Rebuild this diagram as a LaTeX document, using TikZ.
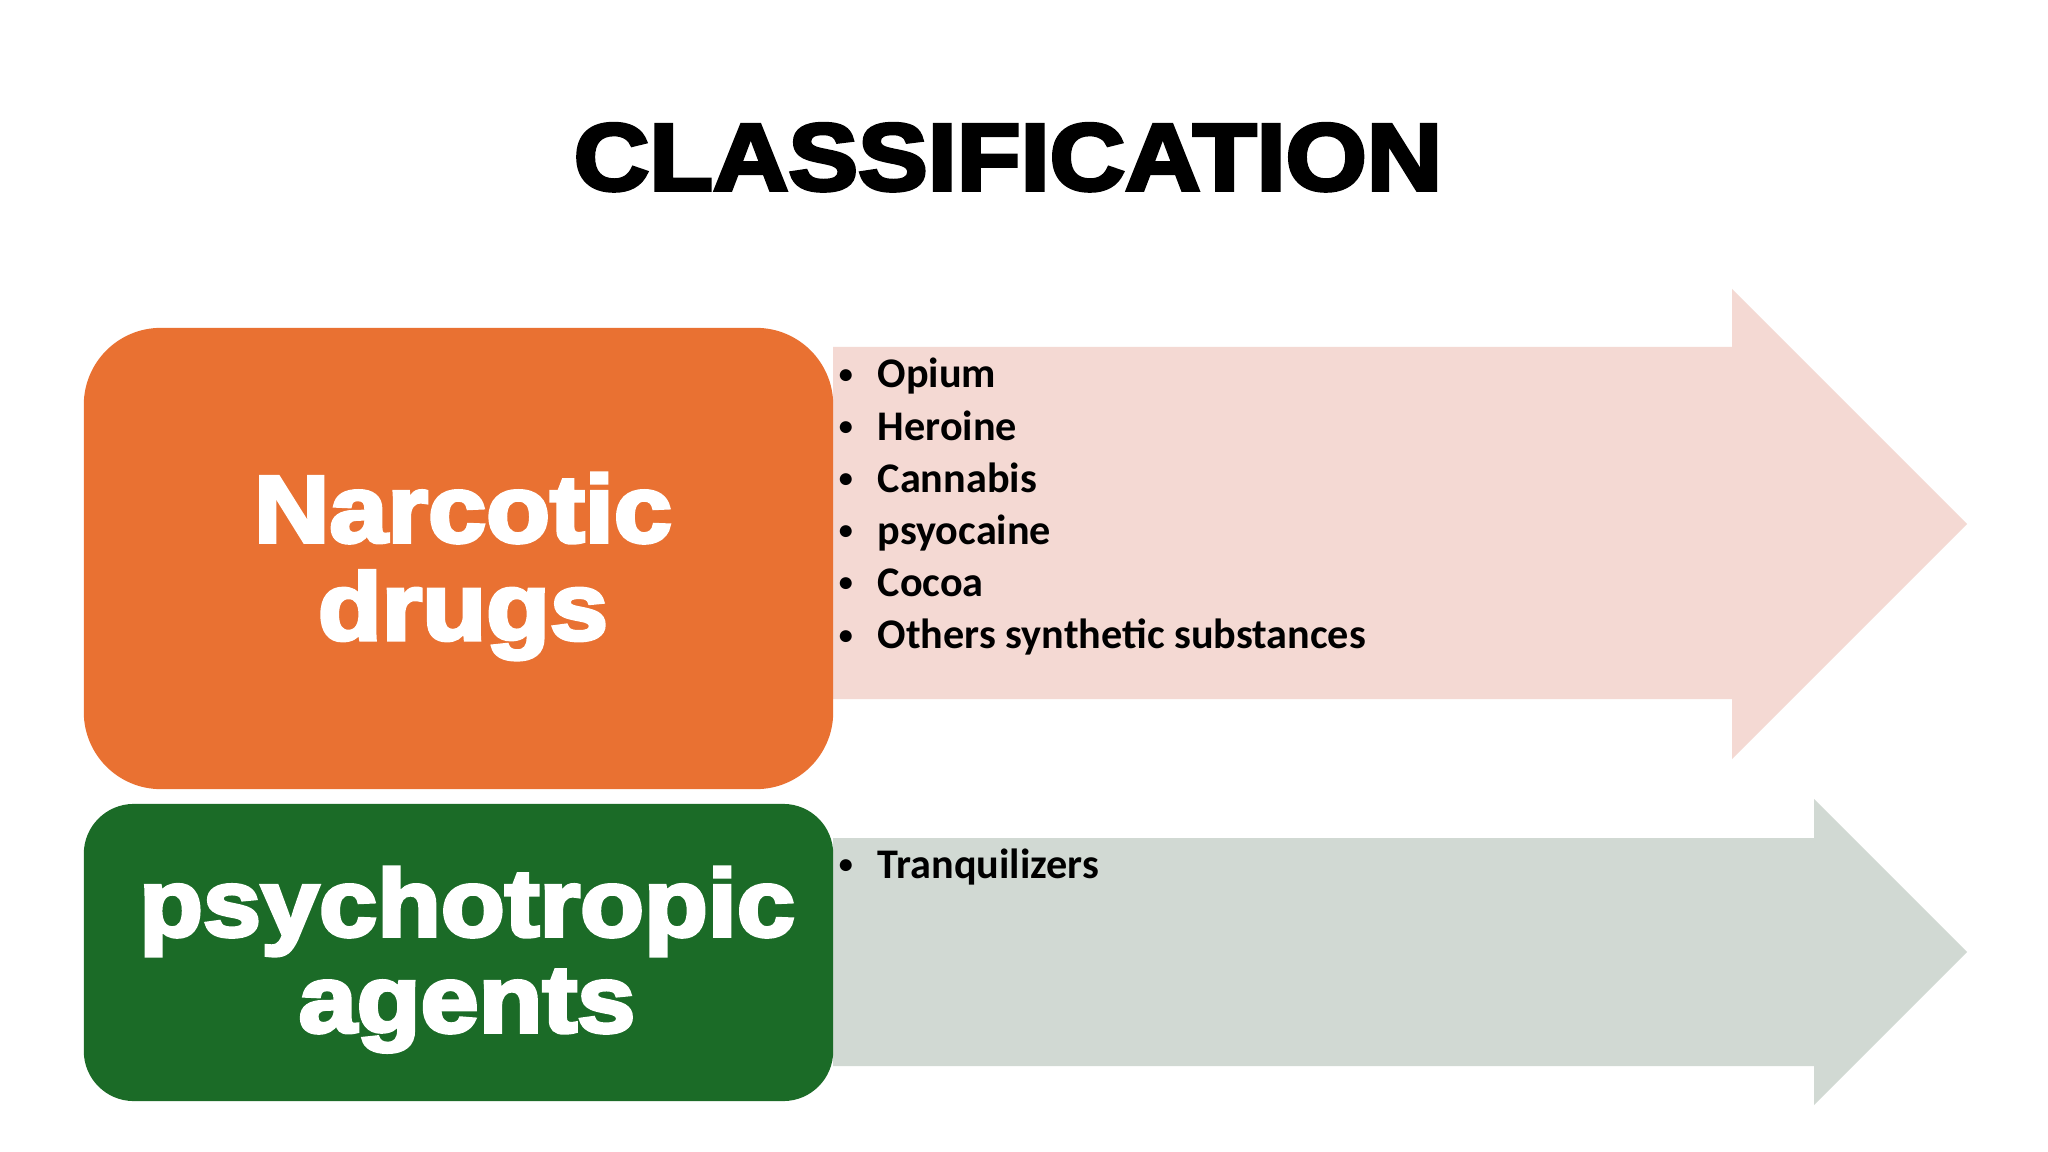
\documentclass[tikz,border=0pt]{standalone}
\usepackage{fontspec}
\setmainfont{Carlito}
\newfontfamily\heavyfont[FakeBold=4, FakeStretch=1.1]{Liberation Sans Bold}
\definecolor{narcoticorange}{HTML}{E97132}
\definecolor{psychogreen}{HTML}{1B6B27}
\definecolor{narcoticpink}{HTML}{F4D9D3}
\definecolor{psychogrey}{HTML}{D1D9D3}
\newcommand{\listdot}{\makebox[6pt]{\raisebox{1.2pt}{\fontsize{8}{8}\selectfont\textbullet}}}
\tikzset{
	classbox/.style={rectangle, inner sep=0, minimum width=7.49cm},
	classlabel/.style={anchor=base, inner sep=0, text=white,
		font=\heavyfont\fontsize{27}{27.3}\selectfont},
	bulletlist/.style={anchor=base west, inner sep=0, font=\bfseries\fontsize{12}{14.8}\selectfont}
}

\begin{document}
\begin{tikzpicture}[x=0.01cm, y=-0.01cm]
			%%%%% START %%%%%
			
			\useasboundingbox[fill=white] (0, 0) rectangle (2048, 1152);
			
			\node[anchor=base, font=\heavyfont\fontsize{27}{27}\selectfont] (title) at (1008, 190) {CLASSIFICATION};
			
			\fill[narcoticpink] (833, 347) -- (1732, 347) -- (1732, 289) -- (1967, 524) -- (1732, 759) -- (1732, 699) -- (833, 699) -- cycle;
			\fill[psychogrey] (833, 838) -- (1814, 838) -- (1814, 799) -- (1967, 952) -- (1814, 1105) -- (1814, 1066) -- (833, 1066) -- cycle;
			
			\node[classbox, fill=narcoticorange, minimum height=4.61cm, rounded corners=0.77cm] (narcotic) at (458.5, 558.5) {};
			\node[classbox, fill=psychogreen, minimum height=2.97cm, rounded corners=0.5cm] (psychotropic) at (458.5, 952.5) {};
			
			\node[classlabel] (narcoticlabel) at (463, 542) {\begin{tabular}[t]{@{}c@{}}Narcotic\\drugs\end{tabular}};
			\node[classlabel] (psychotropiclabel) at (467, 936) {\begin{tabular}[t]{@{}c@{}}psychotropic\\agents\end{tabular}};
			
			\node[bulletlist] (narcoticlist) at (834.5, 388) {\begin{tabular}[t]{@{}l@{\hspace{6.1pt}}l@{}}
				\listdot & Opium\\
				\listdot & Heroine\\
				\listdot & Cannabis\\
				\listdot & psyocaine\\
				\listdot & Cocoa\\
				\listdot & Others synthetic substances
			\end{tabular}};
			\node[bulletlist] (psychotropiclist) at (834.5, 878) {\begin{tabular}[t]{@{}l@{\hspace{6.1pt}}l@{}}
				\listdot & Tranquilizers
			\end{tabular}};
			
			%%%%% END %%%%%
		\end{tikzpicture}
\end{document}
